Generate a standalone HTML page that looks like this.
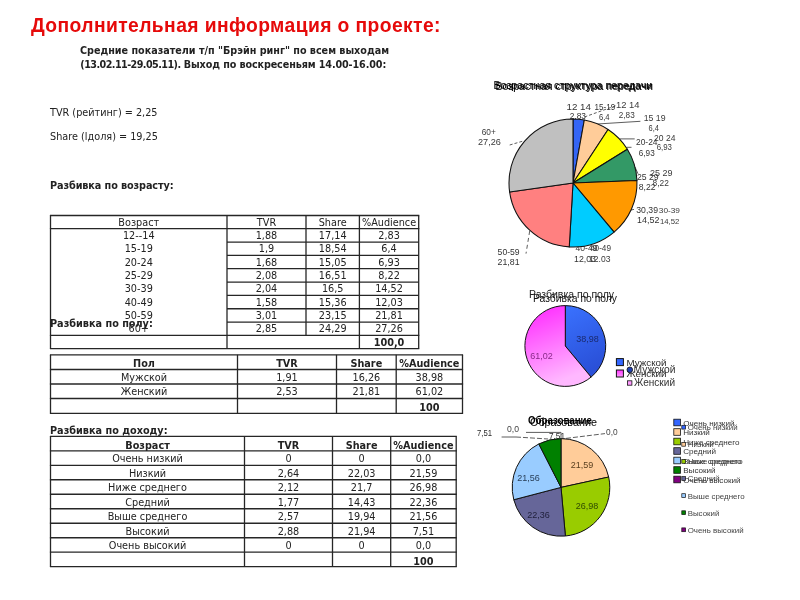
<!DOCTYPE html>
<html lang="ru"><head><meta charset="utf-8"><title>Дополнительная информация о проекте</title>
<style>
html,body{margin:0;padding:0;background:#fff;}
body{width:800px;height:600px;position:relative;overflow:hidden;font-family:"DejaVu Sans","Liberation Sans",sans-serif;color:#1a1a1a;}
.abs{position:absolute;white-space:nowrap;}
.title{left:31px;top:12.8px;letter-spacing:0.4px;font:bold 19.3px/26px "Liberation Sans",sans-serif;color:#e60a0a;}
.sub{left:50px;width:370px;text-align:center;font:bold 9.62px/13px "DejaVu Sans",sans-serif;color:#222;}
.p{font:9.7px/13px "DejaVu Sans",sans-serif;color:#222;}
.ln{position:absolute;background:#2b2b2b;}
.c{position:absolute;text-align:center;font:9.7px/13px "DejaVu Sans",sans-serif;color:#222;white-space:nowrap;}
.b{font-weight:bold;}
svg{position:absolute;left:0;top:0;}
svg text{font-family:"Liberation Sans",sans-serif;}
</style></head><body>
<div class="abs title">Дополнительная информация о проекте:</div>
<div class="abs sub" style="top:44.4px;left:49.5px">Средние показатели т/п "Брэйн ринг" по всем выходам</div>
<div class="abs sub" style="top:57.9px;left:80.3px;width:auto;text-align:left"><span style="letter-spacing:-0.55px">(13.02.11-29.05.11).</span><span style="letter-spacing:-0.1px"> Выход по воскресеньям 14.00-16.00:</span></div>
<div class="abs p" style="left:50px;top:105.7px">TVR (рейтинг) = 2,25</div>
<div class="abs p" style="left:50px;top:130px">Share (lдоля) = 19,25</div>
<div class="abs p b" style="left:50px;top:179px;letter-spacing:-0.1px">Разбивка по возрасту:</div>
<div class="abs p b" style="left:50px;top:317px">Разбивка по полу:</div>
<div class="abs p b" style="left:50px;top:424px">Разбивка по доходу:</div>

<div class="c" style="left:50.5px;width:176.5px;top:215.60px">Возраст</div>
<div class="c" style="left:227.0px;width:79.0px;top:215.60px">TVR</div>
<div class="c" style="left:306.0px;width:53.4px;top:215.60px">Share</div>
<div class="c" style="left:359.4px;width:59.3px;top:215.60px">%Audience</div>
<div class="c" style="left:50.5px;width:176.5px;top:228.87px">12--14</div>
<div class="c" style="left:227.0px;width:79.0px;top:228.87px">1,88</div>
<div class="c" style="left:306.0px;width:53.4px;top:228.87px">17,14</div>
<div class="c" style="left:359.4px;width:59.3px;top:228.87px">2,83</div>
<div class="c" style="left:50.5px;width:176.5px;top:242.21px">15-19</div>
<div class="c" style="left:227.0px;width:79.0px;top:242.21px">1,9</div>
<div class="c" style="left:306.0px;width:53.4px;top:242.21px">18,54</div>
<div class="c" style="left:359.4px;width:59.3px;top:242.21px">6,4</div>
<div class="c" style="left:50.5px;width:176.5px;top:255.55px">20-24</div>
<div class="c" style="left:227.0px;width:79.0px;top:255.55px">1,68</div>
<div class="c" style="left:306.0px;width:53.4px;top:255.55px">15,05</div>
<div class="c" style="left:359.4px;width:59.3px;top:255.55px">6,93</div>
<div class="c" style="left:50.5px;width:176.5px;top:268.89px">25-29</div>
<div class="c" style="left:227.0px;width:79.0px;top:268.89px">2,08</div>
<div class="c" style="left:306.0px;width:53.4px;top:268.89px">16,51</div>
<div class="c" style="left:359.4px;width:59.3px;top:268.89px">8,22</div>
<div class="c" style="left:50.5px;width:176.5px;top:282.23px">30-39</div>
<div class="c" style="left:227.0px;width:79.0px;top:282.23px">2,04</div>
<div class="c" style="left:306.0px;width:53.4px;top:282.23px">16,5</div>
<div class="c" style="left:359.4px;width:59.3px;top:282.23px">14,52</div>
<div class="c" style="left:50.5px;width:176.5px;top:295.57px">40-49</div>
<div class="c" style="left:227.0px;width:79.0px;top:295.57px">1,58</div>
<div class="c" style="left:306.0px;width:53.4px;top:295.57px">15,36</div>
<div class="c" style="left:359.4px;width:59.3px;top:295.57px">12,03</div>
<div class="c" style="left:50.5px;width:176.5px;top:308.91px">50-59</div>
<div class="c" style="left:227.0px;width:79.0px;top:308.91px">3,01</div>
<div class="c" style="left:306.0px;width:53.4px;top:308.91px">23,15</div>
<div class="c" style="left:359.4px;width:59.3px;top:308.91px">21,81</div>
<div class="c" style="left:50.5px;width:176.5px;top:322.25px">60+</div>
<div class="c" style="left:227.0px;width:79.0px;top:322.25px">2,85</div>
<div class="c" style="left:306.0px;width:53.4px;top:322.25px">24,29</div>
<div class="c" style="left:359.4px;width:59.3px;top:322.25px">27,26</div>
<div class="c b" style="left:359.4px;width:59.3px;top:336.21px">100,0</div>
<div class="c b" style="left:50.5px;width:187.0px;top:356.95px">Пол</div>
<div class="c b" style="left:237.5px;width:99.0px;top:356.95px">TVR</div>
<div class="c b" style="left:336.5px;width:59.7px;top:356.95px">Share</div>
<div class="c b" style="left:396.2px;width:66.3px;top:356.95px">%Audience</div>
<div class="c" style="left:50.5px;width:187.0px;top:370.85px">Мужской</div>
<div class="c" style="left:237.5px;width:99.0px;top:370.85px">1,91</div>
<div class="c" style="left:336.5px;width:59.7px;top:370.85px">16,26</div>
<div class="c" style="left:396.2px;width:66.3px;top:370.85px">38,98</div>
<div class="c" style="left:50.5px;width:187.0px;top:385.35px">Женский</div>
<div class="c" style="left:237.5px;width:99.0px;top:385.35px">2,53</div>
<div class="c" style="left:336.5px;width:59.7px;top:385.35px">21,81</div>
<div class="c" style="left:396.2px;width:66.3px;top:385.35px">61,02</div>
<div class="c b" style="left:396.2px;width:66.3px;top:400.70px">100</div>
<div class="c b" style="left:50.5px;width:194.0px;top:438.64px">Возраст</div>
<div class="c b" style="left:244.5px;width:88.0px;top:438.64px">TVR</div>
<div class="c b" style="left:332.5px;width:58.2px;top:438.64px">Share</div>
<div class="c b" style="left:390.7px;width:65.5px;top:438.64px">%Audience</div>
<div class="c" style="left:50.5px;width:194.0px;top:452.44px">Очень низкий</div>
<div class="c" style="left:244.5px;width:88.0px;top:452.44px">0</div>
<div class="c" style="left:332.5px;width:58.2px;top:452.44px">0</div>
<div class="c" style="left:390.7px;width:65.5px;top:452.44px">0,0</div>
<div class="c" style="left:50.5px;width:194.0px;top:466.92px">Низкий</div>
<div class="c" style="left:244.5px;width:88.0px;top:466.92px">2,64</div>
<div class="c" style="left:332.5px;width:58.2px;top:466.92px">22,03</div>
<div class="c" style="left:390.7px;width:65.5px;top:466.92px">21,59</div>
<div class="c" style="left:50.5px;width:194.0px;top:481.41px">Ниже среднего</div>
<div class="c" style="left:244.5px;width:88.0px;top:481.41px">2,12</div>
<div class="c" style="left:332.5px;width:58.2px;top:481.41px">21,7</div>
<div class="c" style="left:390.7px;width:65.5px;top:481.41px">26,98</div>
<div class="c" style="left:50.5px;width:194.0px;top:495.90px">Средний</div>
<div class="c" style="left:244.5px;width:88.0px;top:495.90px">1,77</div>
<div class="c" style="left:332.5px;width:58.2px;top:495.90px">14,43</div>
<div class="c" style="left:390.7px;width:65.5px;top:495.90px">22,36</div>
<div class="c" style="left:50.5px;width:194.0px;top:510.39px">Выше среднего</div>
<div class="c" style="left:244.5px;width:88.0px;top:510.39px">2,57</div>
<div class="c" style="left:332.5px;width:58.2px;top:510.39px">19,94</div>
<div class="c" style="left:390.7px;width:65.5px;top:510.39px">21,56</div>
<div class="c" style="left:50.5px;width:194.0px;top:524.88px">Высокий</div>
<div class="c" style="left:244.5px;width:88.0px;top:524.88px">2,88</div>
<div class="c" style="left:332.5px;width:58.2px;top:524.88px">21,94</div>
<div class="c" style="left:390.7px;width:65.5px;top:524.88px">7,51</div>
<div class="c" style="left:50.5px;width:194.0px;top:539.38px">Очень высокий</div>
<div class="c" style="left:244.5px;width:88.0px;top:539.38px">0</div>
<div class="c" style="left:332.5px;width:58.2px;top:539.38px">0</div>
<div class="c" style="left:390.7px;width:65.5px;top:539.38px">0,0</div>
<div class="c b" style="left:390.7px;width:65.5px;top:554.57px">100</div>
<svg width="800" height="600" viewBox="0 0 800 600" fill="#2a2a2a">
<defs>
<filter id="bl2" x="-5%" y="-25%" width="110%" height="150%"><feGaussianBlur stdDeviation="0.5"/></filter>
<filter id="bl" x="-5%" y="-20%" width="110%" height="140%"><feGaussianBlur stdDeviation="0.35"/></filter>
<linearGradient id="gp" x1="0" y1="0" x2="0.3" y2="1"><stop offset="0" stop-color="#ff22ff"/><stop offset="1" stop-color="#ffb8ff"/></linearGradient>
<linearGradient id="gp2" x1="0" y1="0" x2="0" y2="1"><stop offset="0" stop-color="#ff33ff"/><stop offset="1" stop-color="#ff99ff"/></linearGradient>
<linearGradient id="gb" x1="0" y1="0" x2="0.3" y2="1"><stop offset="0" stop-color="#3a72ff"/><stop offset="1" stop-color="#2a50d8"/></linearGradient>
</defs>
<g stroke="#262626" stroke-width="1.3"><line x1="49.9" y1="215.50" x2="419.3" y2="215.50"/><line x1="49.9" y1="228.70" x2="419.3" y2="228.70"/><line x1="227.0" y1="242.04" x2="418.7" y2="242.04"/><line x1="227.0" y1="255.38" x2="418.7" y2="255.38"/><line x1="227.0" y1="268.72" x2="418.7" y2="268.72"/><line x1="227.0" y1="282.06" x2="418.7" y2="282.06"/><line x1="227.0" y1="295.40" x2="418.7" y2="295.40"/><line x1="227.0" y1="308.74" x2="418.7" y2="308.74"/><line x1="227.0" y1="322.08" x2="418.7" y2="322.08"/><line x1="49.9" y1="335.42" x2="419.3" y2="335.42"/><line x1="49.9" y1="348.60" x2="419.3" y2="348.60"/><line x1="50.50" y1="215.5" x2="50.50" y2="348.6"/><line x1="227.00" y1="215.5" x2="227.00" y2="348.6"/><line x1="306.00" y1="215.5" x2="306.00" y2="335.4"/><line x1="359.40" y1="215.5" x2="359.40" y2="348.6"/><line x1="418.70" y1="215.5" x2="418.70" y2="348.6"/><line x1="49.9" y1="354.80" x2="463.1" y2="354.80"/><line x1="49.9" y1="369.50" x2="463.1" y2="369.50"/><line x1="49.9" y1="384.00" x2="463.1" y2="384.00"/><line x1="49.9" y1="398.50" x2="463.1" y2="398.50"/><line x1="49.9" y1="413.30" x2="463.1" y2="413.30"/><line x1="50.50" y1="354.8" x2="50.50" y2="413.3"/><line x1="237.50" y1="354.8" x2="237.50" y2="413.3"/><line x1="336.50" y1="354.8" x2="336.50" y2="413.3"/><line x1="396.20" y1="354.8" x2="396.20" y2="413.3"/><line x1="462.50" y1="354.8" x2="462.50" y2="413.3"/><line x1="49.9" y1="436.30" x2="456.8" y2="436.30"/><line x1="49.9" y1="450.79" x2="456.8" y2="450.79"/><line x1="49.9" y1="465.28" x2="456.8" y2="465.28"/><line x1="49.9" y1="479.77" x2="456.8" y2="479.77"/><line x1="49.9" y1="494.26" x2="456.8" y2="494.26"/><line x1="49.9" y1="508.75" x2="456.8" y2="508.75"/><line x1="49.9" y1="523.24" x2="456.8" y2="523.24"/><line x1="49.9" y1="537.73" x2="456.8" y2="537.73"/><line x1="49.9" y1="552.22" x2="456.8" y2="552.22"/><line x1="49.9" y1="566.71" x2="456.8" y2="566.71"/><line x1="50.50" y1="436.3" x2="50.50" y2="566.7"/><line x1="244.50" y1="436.3" x2="244.50" y2="566.7"/><line x1="332.50" y1="436.3" x2="332.50" y2="566.7"/><line x1="390.70" y1="436.3" x2="390.70" y2="566.7"/><line x1="456.20" y1="436.3" x2="456.20" y2="566.7"/></g>
<text x="493.5" y="88.8" font-size="10.7" text-anchor="start" fill="#000" stroke="#000" stroke-width="0.12">Возрастная структура передачи</text>
<text x="495.5" y="89.8" font-size="10.6" text-anchor="start" fill="#000" stroke="#000" stroke-width="0.12">Возрастная структура передачи</text>
<text x="566.5" y="110.4" font-size="8.6" textLength="24.5" lengthAdjust="spacingAndGlyphs" fill="#333">12  14</text>
<text x="569.7" y="119.4" font-size="8.6" textLength="16.3" lengthAdjust="spacingAndGlyphs" fill="#333">2,83</text>
<text x="594.4" y="110.4" font-size="8.6" textLength="20.8" lengthAdjust="spacingAndGlyphs" fill="#333">15-19</text>
<text x="599" y="120.2" font-size="8.6" textLength="10.6" lengthAdjust="spacingAndGlyphs" fill="#333">6,4</text>
<text x="636" y="145" font-size="8.6" textLength="21.5" lengthAdjust="spacingAndGlyphs" fill="#333">20-24</text>
<text x="638.8" y="156" font-size="8.6" textLength="15.9" lengthAdjust="spacingAndGlyphs" fill="#333">6,93</text>
<text x="637" y="179.8" font-size="8.6" textLength="21.7" lengthAdjust="spacingAndGlyphs" fill="#333">25 29</text>
<text x="638.8" y="189.8" font-size="8.6" textLength="16.8" lengthAdjust="spacingAndGlyphs" fill="#333">8,22</text>
<text x="636.3" y="213" font-size="8.6" textLength="21.7" lengthAdjust="spacingAndGlyphs" fill="#333">30,39</text>
<text x="637" y="222.5" font-size="8.6" textLength="22.4" lengthAdjust="spacingAndGlyphs" fill="#333">14,52</text>
<text x="575.6" y="251.2" font-size="8.6" textLength="21.9" lengthAdjust="spacingAndGlyphs" fill="#333">40-49</text>
<text x="574" y="261.6" font-size="8.6" textLength="22.0" lengthAdjust="spacingAndGlyphs" fill="#333">12,03</text>
<text x="497.6" y="255" font-size="8.6" textLength="22.0" lengthAdjust="spacingAndGlyphs" fill="#333">50-59</text>
<text x="497.6" y="265" font-size="8.6" textLength="22.0" lengthAdjust="spacingAndGlyphs" fill="#333">21,81</text>
<text x="616" y="107.7" font-size="8.4" textLength="23.6" lengthAdjust="spacingAndGlyphs" filter="url(#bl2)" fill="#3a3a3a">12  14</text>
<text x="618.8" y="117.7" font-size="8.4" textLength="15.9" lengthAdjust="spacingAndGlyphs" filter="url(#bl2)" fill="#3a3a3a">2,83</text>
<text x="643.7" y="121" font-size="8.4" textLength="21.9" lengthAdjust="spacingAndGlyphs" filter="url(#bl2)" fill="#3a3a3a">15 19</text>
<text x="648.6" y="131" font-size="8.4" textLength="10.4" lengthAdjust="spacingAndGlyphs" filter="url(#bl2)" fill="#3a3a3a">6,4</text>
<text x="654" y="140.5" font-size="8.4" textLength="21.4" lengthAdjust="spacingAndGlyphs" filter="url(#bl2)" fill="#3a3a3a">20 24</text>
<text x="656.7" y="150" font-size="8.4" textLength="15.3" lengthAdjust="spacingAndGlyphs" filter="url(#bl2)" fill="#3a3a3a">6,93</text>
<text x="650" y="175.6" font-size="8.4" textLength="22.5" lengthAdjust="spacingAndGlyphs" filter="url(#bl2)" fill="#3a3a3a">25 29</text>
<text x="652.5" y="185.6" font-size="8.4" textLength="16.3" lengthAdjust="spacingAndGlyphs" filter="url(#bl2)" fill="#3a3a3a">8,22</text>
<text x="658.8" y="212.5" font-size="7.6" textLength="21.2" lengthAdjust="spacingAndGlyphs" filter="url(#bl2)" fill="#3a3a3a">30-39</text>
<text x="660" y="224.4" font-size="7.6" textLength="19.4" lengthAdjust="spacingAndGlyphs" filter="url(#bl2)" fill="#3a3a3a">14,52</text>
<text x="590" y="251.2" font-size="8.4" textLength="21.0" lengthAdjust="spacingAndGlyphs" filter="url(#bl2)" fill="#3a3a3a">40-49</text>
<text x="589" y="261.6" font-size="8.4" textLength="21.4" lengthAdjust="spacingAndGlyphs" filter="url(#bl2)" fill="#3a3a3a">12.03</text>
<text x="481.7" y="135.3" font-size="8.4" textLength="14.1" lengthAdjust="spacingAndGlyphs" filter="url(#bl2)" fill="#3a3a3a">60+</text>
<text x="478" y="145.3" font-size="8.4" textLength="22.8" lengthAdjust="spacingAndGlyphs" filter="url(#bl2)" fill="#3a3a3a">27,26</text>
<line x1="584.4" y1="117" x2="616" y2="105.6" stroke="#333" stroke-width="0.8" stroke-dasharray="3 2"/>
<line x1="597" y1="124" x2="640.4" y2="121.3" stroke="#333" stroke-width="0.8"/>
<line x1="620" y1="138.9" x2="634.7" y2="138.9" stroke="#333" stroke-width="0.8"/>
<line x1="626.6" y1="147.3" x2="631.5" y2="147.3" stroke="#333" stroke-width="0.8"/>
<line x1="635" y1="167" x2="638" y2="173.8" stroke="#333" stroke-width="0.8"/>
<line x1="509.7" y1="145" x2="524" y2="140.8" stroke="#333" stroke-width="0.8" stroke-dasharray="3 2"/>
<line x1="529.7" y1="231" x2="526" y2="253.6" stroke="#333" stroke-width="0.8" stroke-dasharray="4 3"/>
<line x1="631" y1="210" x2="634" y2="209.4" stroke="#333" stroke-width="0.8"/>
<path d="M573.0,183.0 L573.00,119.00 A64,64 0 0 1 584.32,120.01 Z" fill="#3465f5" stroke="#111" stroke-width="1.05" stroke-linejoin="round"/>
<path d="M573.0,183.0 L584.32,120.01 A64,64 0 0 1 608.07,129.46 Z" fill="#ffcc99" stroke="#111" stroke-width="1.05" stroke-linejoin="round"/>
<path d="M573.0,183.0 L608.07,129.46 A64,64 0 0 1 627.38,149.25 Z" fill="#ffff00" stroke="#111" stroke-width="1.05" stroke-linejoin="round"/>
<path d="M573.0,183.0 L627.38,149.25 A64,64 0 0 1 636.95,180.51 Z" fill="#339966" stroke="#111" stroke-width="1.05" stroke-linejoin="round"/>
<path d="M573.0,183.0 L636.95,180.51 A64,64 0 0 1 614.10,232.06 Z" fill="#ff9900" stroke="#111" stroke-width="1.05" stroke-linejoin="round"/>
<path d="M573.0,183.0 L614.10,232.06 A64,64 0 0 1 569.26,246.89 Z" fill="#00ccff" stroke="#111" stroke-width="1.05" stroke-linejoin="round"/>
<path d="M573.0,183.0 L569.26,246.89 A64,64 0 0 1 509.64,192.06 Z" fill="#ff8080" stroke="#111" stroke-width="1.05" stroke-linejoin="round"/>
<path d="M573.0,183.0 L509.64,192.06 A64,64 0 0 1 573.00,119.00 Z" fill="#c0c0c0" stroke="#111" stroke-width="1.05" stroke-linejoin="round"/>
<path d="M565.3,346.0 L565.30,305.60 A40.4,40.4 0 0 1 591.09,377.10 Z" fill="url(#gb)" stroke="#111" stroke-width="1" stroke-linejoin="round"/>
<path d="M565.3,346.0 L591.09,377.10 A40.4,40.4 0 1 1 565.30,305.60 Z" fill="url(#gp)" stroke="#111" stroke-width="1" stroke-linejoin="round"/>
<path d="M561.0,487.4 L561.00,438.60 A48.8,48.8 0 0 1 608.68,477.02 Z" fill="#ffcc99" stroke="#111" stroke-width="1" stroke-linejoin="round"/>
<path d="M561.0,487.4 L608.68,477.02 A48.8,48.8 0 0 1 565.38,536.00 Z" fill="#99cc00" stroke="#111" stroke-width="1" stroke-linejoin="round"/>
<path d="M561.0,487.4 L565.38,536.00 A48.8,48.8 0 0 1 513.79,499.74 Z" fill="#666699" stroke="#111" stroke-width="1" stroke-linejoin="round"/>
<path d="M561.0,487.4 L513.79,499.74 A48.8,48.8 0 0 1 538.82,443.93 Z" fill="#99ccff" stroke="#111" stroke-width="1" stroke-linejoin="round"/>
<path d="M561.0,487.4 L538.82,443.93 A48.8,48.8 0 0 1 561.00,438.60 Z" fill="#008000" stroke="#111" stroke-width="1" stroke-linejoin="round"/>
<text x="529" y="298" font-size="10.4" textLength="85.0" lengthAdjust="spacingAndGlyphs" fill="#222" filter="url(#bl)">Разбивка по полу</text>
<text x="533" y="302.3" font-size="10.4" textLength="84.0" lengthAdjust="spacingAndGlyphs" fill="#111">Разбивка по полу</text>
<text x="587.5" y="341.5" font-size="9" text-anchor="middle" fill="#1a2a6e">38,98</text>
<text x="541.5" y="359" font-size="9" text-anchor="middle" fill="#8a2a8a">61,02</text>
<rect x="616.4" y="358.6" width="7" height="7" fill="#3366ff" stroke="#111" stroke-width="1"/>
<text x="626.5" y="365.8" font-size="9.8" textLength="40.0" lengthAdjust="spacingAndGlyphs" >Мужской</text>
<rect x="616.4" y="370" width="7" height="7" fill="url(#gp2)" stroke="#111" stroke-width="1"/>
<text x="626.5" y="377.4" font-size="9.8" textLength="40.0" lengthAdjust="spacingAndGlyphs" >Женский</text>
<circle cx="629.8" cy="369.8" r="2.8" fill="#1f3fb0" stroke="#111" stroke-width="0.8"/>
<text x="633.5" y="372.5" font-size="10.3" textLength="42.0" lengthAdjust="spacingAndGlyphs" fill="#333" filter="url(#bl)">Мужской</text>
<rect x="627.5" y="380.8" width="4.4" height="4.4" fill="#ff99ff" stroke="#111" stroke-width="0.8"/>
<text x="634" y="386" font-size="10.3" textLength="41.0" lengthAdjust="spacingAndGlyphs" fill="#333" filter="url(#bl)">Женский</text>
<text x="528" y="423.6" font-size="10.3" textLength="64.0" lengthAdjust="spacingAndGlyphs" font-weight="bold" fill="#000" filter="url(#bl)">Образование</text>
<text x="530" y="426.4" font-size="10.8" textLength="67.0" lengthAdjust="spacingAndGlyphs" fill="#000">Образование</text>
<text x="477" y="436" font-size="8.4" textLength="15.0" lengthAdjust="spacingAndGlyphs" >7,51</text>
<text x="507" y="431.6" font-size="8.4" textLength="12.0" lengthAdjust="spacingAndGlyphs" filter="url(#bl)" fill="#444">0,0</text>
<text x="549" y="438.6" font-size="8.4" textLength="16.0" lengthAdjust="spacingAndGlyphs" >7,51</text>
<text x="606" y="434.6" font-size="8.4" textLength="11.6" lengthAdjust="spacingAndGlyphs" filter="url(#bl)" fill="#444">0,0</text>
<line x1="501.6" y1="437" x2="516" y2="437" stroke="#333" stroke-width="0.8"/>
<line x1="516" y1="437" x2="548" y2="439" stroke="#333" stroke-width="0.8" stroke-dasharray="5 2"/>
<polyline points="526,432.4 561,432.4 561,439" fill="none" stroke="#333" stroke-width="0.8"/>
<line x1="566" y1="438.4" x2="605" y2="433.6" stroke="#333" stroke-width="0.8" stroke-dasharray="5 2"/>
<text x="582" y="468" font-size="9" text-anchor="middle" fill="#5a4020">21,59</text>
<text x="587" y="508.5" font-size="9" text-anchor="middle" fill="#2f4a00">26,98</text>
<text x="538.5" y="517.5" font-size="9" text-anchor="middle" fill="#1f1f3a">22,36</text>
<text x="528.5" y="481" font-size="9" text-anchor="middle" fill="#2a405a">21,56</text>
<rect x="673.8" y="419.2" width="6.6" height="6.6" fill="#3366ff" stroke="#111" stroke-width="0.8"/>
<text x="683.2" y="425.8" font-size="8.1" text-anchor="start" fill="#333" filter="url(#bl)">Очень низкий</text>
<rect x="673.8" y="428.7" width="6.6" height="6.6" fill="#ffcc99" stroke="#111" stroke-width="0.8"/>
<text x="683.2" y="435.3" font-size="8.1" text-anchor="start" fill="#333" filter="url(#bl)">Низкий</text>
<rect x="673.8" y="438.2" width="6.6" height="6.6" fill="#99cc00" stroke="#111" stroke-width="0.8"/>
<text x="683.2" y="444.8" font-size="8.1" text-anchor="start" fill="#333" filter="url(#bl)">Ниже среднего</text>
<rect x="673.8" y="447.7" width="6.6" height="6.6" fill="#666699" stroke="#111" stroke-width="0.8"/>
<text x="683.2" y="454.3" font-size="8.1" text-anchor="start" fill="#333" filter="url(#bl)">Средний</text>
<rect x="673.8" y="457.2" width="6.6" height="6.6" fill="#99ccff" stroke="#111" stroke-width="0.8"/>
<text x="683.2" y="463.8" font-size="8.1" text-anchor="start" fill="#333" filter="url(#bl)">Выше среднего</text>
<rect x="673.8" y="466.7" width="6.6" height="6.6" fill="#008000" stroke="#111" stroke-width="0.8"/>
<text x="683.2" y="473.3" font-size="8.1" text-anchor="start" fill="#333" filter="url(#bl)">Высокий</text>
<rect x="673.8" y="476.2" width="6.6" height="6.6" fill="#800080" stroke="#111" stroke-width="0.8"/>
<text x="683.2" y="482.8" font-size="8.1" text-anchor="start" fill="#333" filter="url(#bl)">Очень высокий</text>
<rect x="681.8" y="425.3" width="3.8" height="3.8" fill="#3366ff" stroke="#111" stroke-width="0.7"/>
<text x="687.7" y="430.1" font-size="7.9" text-anchor="start" filter="url(#bl)" fill="#444">Очень низкий</text>
<rect x="681.8" y="442.40000000000003" width="3.8" height="3.8" fill="#ffcc99" stroke="#111" stroke-width="0.7"/>
<text x="687.7" y="447.20000000000005" font-size="7.9" text-anchor="start" filter="url(#bl)" fill="#444">Низкий</text>
<rect x="681.8" y="459.5" width="3.8" height="3.8" fill="#99cc00" stroke="#111" stroke-width="0.7"/>
<text x="687.7" y="464.3" font-size="7.9" text-anchor="start" filter="url(#bl)" fill="#444">Ниже среднего</text>
<rect x="681.8" y="476.6" width="3.8" height="3.8" fill="#666699" stroke="#111" stroke-width="0.7"/>
<text x="687.7" y="481.40000000000003" font-size="7.9" text-anchor="start" filter="url(#bl)" fill="#444">Средний</text>
<rect x="681.8" y="493.70000000000005" width="3.8" height="3.8" fill="#99ccff" stroke="#111" stroke-width="0.7"/>
<text x="687.7" y="498.50000000000006" font-size="7.9" text-anchor="start" filter="url(#bl)" fill="#444">Выше среднего</text>
<rect x="681.8" y="510.79999999999995" width="3.8" height="3.8" fill="#008000" stroke="#111" stroke-width="0.7"/>
<text x="687.7" y="515.5999999999999" font-size="7.9" text-anchor="start" filter="url(#bl)" fill="#444">Высокий</text>
<rect x="681.8" y="527.9" width="3.8" height="3.8" fill="#800080" stroke="#111" stroke-width="0.7"/>
<text x="687.7" y="532.6999999999999" font-size="7.9" text-anchor="start" filter="url(#bl)" fill="#444">Очень высокий</text>
</svg>
</body></html>
